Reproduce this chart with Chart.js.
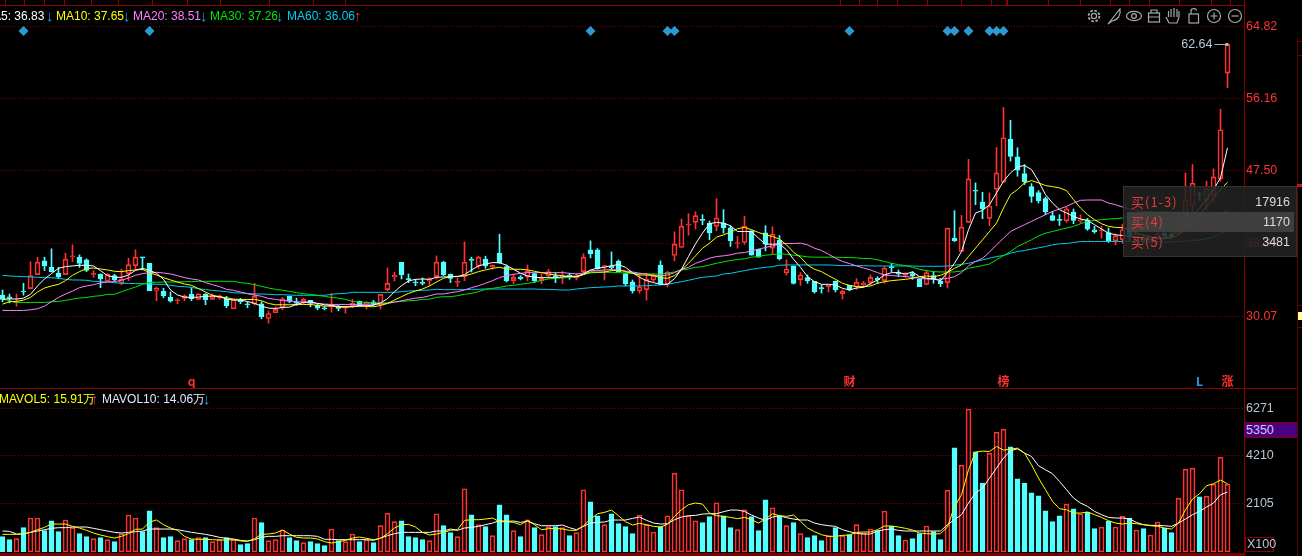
<!DOCTYPE html>
<html><head><meta charset="utf-8">
<script src="https://cdn.jsdelivr.net/npm/chart.js@4"></script>
<style>
html,body{margin:0;padding:0;background:#000;width:1302px;height:556px;overflow:hidden}
#root{position:relative;width:1302px;height:556px;background:#000;overflow:hidden;font:12px "Liberation Sans",Arial,sans-serif}
canvas{position:absolute;left:0}
.ln{position:absolute;background:#8b0000}
.t{position:absolute;white-space:nowrap;line-height:14px}
.ar{font-size:15px;font-weight:bold}
#panel{position:absolute;left:1123px;top:186px;width:174px;height:71px;background:rgba(34,34,34,.87);border:1px solid #333;box-sizing:border-box}
#rowHi{position:absolute;left:3px;top:25px;width:167px;height:20px;background:rgba(70,70,70,.8)}
.pL{position:absolute;left:7px;color:#e23a3a;font:13px "Noto Sans CJK SC","Liberation Sans",sans-serif;line-height:20px;letter-spacing:1px;white-space:nowrap}
.pR{position:absolute;right:6px;color:#dcdcdc;font:12.5px "Liberation Sans",Arial,sans-serif;line-height:20px}
</style></head><body>
<div id="root">
<canvas id="priceChart" style="top:0" width="1302" height="388"></canvas>
<canvas id="volChart" style="top:389px" width="1302" height="164"></canvas>
</div>
<script>
const open=[32.62,32.42,31.70,33.11,33.39,35.07,36.72,35.99,35.27,35.07,
37.20,37.16,36.84,35.11,35.15,34.31,34.95,34.07,35.19,36.15,
37.16,36.43,33.19,33.07,32.34,31.94,32.22,32.70,32.10,32.70,
32.10,32.30,32.14,30.98,32.02,31.54,31.58,31.58,29.82,30.50,
31.14,32.50,31.74,31.82,31.98,31.38,31.06,31.22,31.26,31.06,
31.26,31.86,31.50,31.82,31.50,33.27,34.79,36.55,34.55,34.19,
34.11,34.31,34.83,36.55,35.11,34.15,34.87,36.92,36.11,36.92,
36.03,37.64,36.03,34.35,34.79,34.83,35.19,34.35,34.91,34.91,
34.79,35.03,34.71,35.43,38.04,38.04,36.03,36.11,36.68,35.19,
34.19,33.11,33.27,34.43,36.23,33.95,37.36,38.32,41.00,41.33,
41.65,41.25,40.85,41.25,40.69,38.80,38.92,40.32,38.12,40.08,
38.24,39.20,35.27,36.11,34.47,34.71,34.27,33.51,33.63,34.27,
32.78,33.79,33.59,33.83,34.11,34.63,34.35,36.03,35.31,34.99,
35.19,34.51,33.91,34.95,34.31,34.11,39.44,37.84,41.33,45.18,
43.77,41.81,45.30,46.14,51.27,49.19,47.18,45.62,44.90,44.17,
42.13,41.65,41.53,42.57,41.49,41.65,40.45,40.32,40.12,39.12,
39.24,40.24,39.44,39.56,38.84,39.48,40.04,39.92,40.04,41.33,
43.37,44.74,43.97,44.57,46.54,59.21];
const close=[32.10,32.22,31.82,32.99,34.95,36.55,36.11,35.39,34.79,36.92,
37.28,36.40,35.59,35.19,34.55,35.11,34.43,34.55,36.27,37.16,
37.08,33.15,33.43,32.55,31.90,32.02,32.54,32.18,32.78,32.06,
32.50,32.54,31.34,32.06,31.82,31.46,32.46,30.02,30.42,30.90,
32.18,31.86,31.66,32.10,31.62,31.06,30.98,31.38,31.02,31.14,
31.62,31.34,31.74,31.50,32.70,34.03,34.99,35.03,34.47,34.07,
34.03,34.51,36.55,35.03,34.63,34.23,36.55,36.76,37.16,36.11,
36.19,36.43,34.31,34.75,34.55,35.47,34.35,34.67,35.43,34.83,
34.91,34.83,34.83,37.16,37.56,35.79,36.11,35.87,35.43,33.95,
33.11,33.59,34.51,34.91,33.95,35.35,38.72,40.89,41.08,42.13,
41.57,40.08,41.85,40.69,39.12,38.88,40.89,37.40,37.16,38.72,
39.92,36.96,35.75,34.03,35.03,34.31,32.99,33.35,33.79,33.23,
33.11,33.23,34.15,34.07,34.75,34.43,35.83,35.91,35.15,35.15,
34.91,33.63,35.31,34.55,33.99,40.65,39.12,40.77,46.54,45.06,
42.97,43.29,47.26,51.47,49.23,47.58,46.18,44.45,43.93,42.57,
41.57,41.57,42.93,41.57,41.65,40.53,40.20,40.41,39.04,39.72,
40.45,39.64,40.04,39.16,39.44,39.96,39.64,39.56,41.25,43.97,
46.02,44.62,45.34,46.78,52.43,62.64];
const high=[33.23,32.74,32.74,34.03,36.60,37.16,37.16,38.16,35.95,37.64,
38.64,37.44,36.96,35.55,35.15,35.19,35.11,35.71,37.04,38.04,
37.16,36.43,33.59,33.43,32.99,32.18,32.66,33.51,32.78,32.82,
32.78,32.66,32.46,32.06,32.22,31.82,34.03,31.82,30.70,31.22,
32.34,32.50,32.26,32.22,31.98,31.54,31.26,32.82,31.38,31.30,
32.10,31.90,31.86,31.98,32.70,35.87,35.35,36.55,35.15,34.51,
34.67,34.71,37.32,36.68,35.15,34.63,39.00,37.16,37.28,37.28,
36.23,39.92,36.23,35.11,34.95,36.23,35.23,35.15,35.71,35.31,
35.47,35.23,35.23,37.56,39.12,38.20,36.19,37.80,36.84,35.27,
34.43,35.19,35.23,35.23,36.72,35.47,40.20,41.73,42.37,42.61,
42.25,41.49,44.17,42.85,40.89,39.64,42.05,40.32,38.12,40.93,
40.81,39.76,36.84,36.11,35.31,35.03,34.27,33.83,33.79,34.31,
33.23,33.79,34.59,34.27,35.03,34.83,36.03,36.43,35.63,35.31,
35.43,34.63,35.63,35.43,34.63,40.65,42.73,42.17,48.87,46.06,
44.94,44.86,50.31,55.08,53.56,50.27,48.26,45.98,45.14,44.37,
42.65,42.25,43.17,42.93,42.25,41.81,40.85,40.85,40.65,39.96,
41.13,40.53,40.45,39.84,39.64,40.24,40.24,40.12,41.45,47.26,
48.26,44.94,46.26,47.74,54.88,62.64];
const low=[31.82,31.70,31.30,32.62,33.39,35.07,35.55,35.39,34.59,35.07,
36.64,35.95,35.43,34.75,33.51,34.27,34.31,33.87,34.35,35.71,
35.63,33.15,31.94,32.30,31.78,31.58,31.94,31.94,32.10,31.46,
32.10,32.10,31.10,30.98,31.58,31.10,31.42,29.78,29.26,30.50,
30.86,31.70,31.38,31.54,31.22,30.86,30.86,30.58,30.74,30.46,
31.10,31.30,30.94,31.34,30.94,33.11,34.31,34.55,34.11,33.75,
33.83,33.79,34.55,34.95,34.11,33.63,34.35,35.39,35.83,35.83,
35.71,36.43,34.19,33.99,34.43,34.35,34.11,33.99,34.67,34.11,
33.99,34.51,34.43,35.23,37.08,35.71,34.43,35.63,35.39,33.71,
32.86,32.86,32.02,34.19,33.87,33.59,36.72,38.32,39.80,40.53,
41.05,39.24,40.33,40.04,38.44,38.24,38.68,37.40,37.16,37.92,
37.56,36.84,35.03,33.95,33.79,34.03,32.86,32.86,32.99,32.99,
32.14,33.15,33.31,33.55,33.83,34.03,34.03,35.43,34.83,34.75,
34.51,33.63,33.83,34.03,33.63,33.47,39.04,37.84,41.33,43.45,
41.77,40.93,43.33,46.14,48.67,46.86,45.86,43.73,43.65,42.25,
41.53,40.97,41.33,41.17,41.25,40.37,40.04,39.44,38.92,38.64,
38.84,39.16,39.04,38.84,38.64,39.24,39.44,39.40,39.84,41.25,
42.45,43.97,42.85,43.65,46.26,57.45];
const ma5=[32.10,32.18,32.14,32.26,32.71,33.71,34.55,35.19,35.83,36.03,
36.11,36.19,36.19,36.11,35.55,34.95,34.75,34.75,35.03,35.59,
35.83,35.59,35.23,34.51,33.23,32.63,32.38,32.34,32.38,32.47,
32.51,32.43,32.14,32.02,32.02,31.86,31.62,31.30,31.06,31.02,
31.14,31.18,31.50,31.74,31.82,31.62,31.46,31.38,31.26,31.22,
31.26,31.34,31.34,31.42,31.70,32.18,33.03,33.75,34.31,34.51,
34.55,34.51,34.75,34.79,34.83,34.83,35.07,35.63,36.11,36.35,
36.51,36.51,36.19,35.71,35.23,34.91,34.75,34.71,34.71,34.71,
34.79,34.87,34.87,35.15,35.63,35.83,35.95,36.15,36.27,35.95,
35.31,34.75,34.35,34.11,33.91,33.91,34.59,35.71,37.24,38.76,
40.04,41.17,41.33,41.25,40.93,40.24,40.24,40.24,39.44,38.72,
38.72,38.76,38.04,36.92,35.95,34.83,34.23,33.91,33.91,33.83,
33.43,33.23,33.47,33.55,33.99,34.43,35.03,35.31,35.31,35.15,
35.39,34.83,34.63,34.55,34.35,35.31,36.43,37.84,40.45,42.45,
42.77,43.45,44.86,46.26,47.26,47.98,48.14,47.66,46.26,44.66,
43.65,42.85,42.45,42.05,41.73,41.57,41.05,40.53,40.04,39.84,
39.76,39.64,39.56,39.40,39.24,39.44,39.44,39.72,40.45,41.25,
42.05,43.05,44.05,45.26,46.66,50.27];
const ma10=[31.54,31.82,31.86,32.02,32.34,32.99,33.47,33.71,33.91,34.35,
34.99,35.43,35.79,35.87,35.75,35.63,35.47,35.43,35.55,35.63,
35.71,35.31,35.03,34.71,34.43,34.19,33.95,33.79,33.39,32.99,
32.59,32.43,32.30,32.14,32.10,32.10,32.10,31.94,31.62,31.46,
31.46,31.46,31.50,31.50,31.50,31.38,31.30,31.30,31.18,31.18,
31.22,31.30,31.26,31.22,31.38,31.62,32.02,32.43,32.82,33.11,
33.35,33.71,34.19,34.63,34.83,34.87,34.91,35.15,35.43,35.63,
35.83,35.95,35.75,35.71,35.71,35.63,35.47,35.31,35.15,35.03,
34.95,34.83,34.79,35.07,35.39,35.35,35.39,35.55,35.63,35.43,
35.23,35.03,35.03,34.95,34.71,34.63,34.95,35.63,36.43,37.32,
38.24,38.84,39.56,39.84,40.16,40.57,40.73,40.45,40.12,39.84,
39.64,39.32,38.64,37.76,37.16,36.23,35.71,35.43,34.95,34.51,
34.03,33.79,33.63,33.63,33.71,34.03,34.23,34.35,34.43,34.51,
34.63,34.83,34.91,34.83,34.99,35.35,35.83,36.23,37.24,38.24,
39.24,40.24,41.25,43.05,44.66,45.26,46.06,46.34,46.06,45.74,
45.62,45.46,45.14,44.05,43.05,42.25,41.65,41.17,40.85,40.73,
40.69,40.45,40.04,39.80,39.64,39.36,39.36,39.44,39.84,40.45,
41.25,42.25,43.25,44.25,45.26,46.14];
const ma20=[30.78,30.78,30.78,30.78,30.86,30.98,31.30,31.82,32.34,32.75,
33.11,33.51,33.71,33.87,34.07,34.19,34.23,34.39,34.67,34.99,
35.19,35.31,35.35,35.27,35.15,34.95,34.71,34.55,34.43,34.11,
33.87,33.63,33.31,33.19,32.99,32.78,32.63,32.47,32.22,32.10,
31.98,31.94,31.82,31.78,31.70,31.62,31.54,31.50,31.50,31.50,
31.50,31.50,31.54,31.54,31.54,31.62,31.78,31.94,32.10,32.26,
32.34,32.54,32.75,32.75,32.91,33.03,33.23,33.51,33.75,34.03,
34.35,34.71,34.95,35.11,35.23,35.31,35.31,35.31,35.31,35.31,
35.31,35.23,35.15,35.27,35.55,35.55,35.63,35.67,35.63,35.51,
35.39,35.23,35.15,34.99,34.91,35.03,35.31,35.71,35.95,36.43,
36.72,37.04,37.24,37.32,37.44,37.64,37.72,37.92,38.12,38.32,
38.52,38.72,38.80,38.80,38.84,38.64,38.24,37.96,37.52,37.04,
36.64,36.40,36.11,35.87,35.63,35.31,35.03,34.95,34.91,34.83,
34.75,34.63,34.55,34.51,34.51,34.63,34.83,35.31,36.11,36.64,
37.04,37.76,38.64,39.44,40.24,40.65,41.05,41.45,41.85,42.25,
42.65,42.93,43.25,43.65,43.97,44.01,44.01,44.01,43.65,43.45,
43.17,42.93,42.77,42.65,42.53,42.13,41.85,41.41,41.25,41.05,
40.93,40.93,41.05,41.45,41.85,42.77];
const ma30=[32.14,31.94,31.74,31.74,31.74,31.74,31.74,31.82,31.86,31.98,
32.14,32.26,32.34,32.47,32.55,32.71,32.71,33.03,33.31,33.59,
33.91,34.15,34.15,34.19,34.19,34.19,34.23,34.23,34.27,34.27,
34.27,34.27,34.27,34.27,34.11,34.03,33.87,33.67,33.47,33.31,
33.19,33.07,32.91,32.79,32.71,32.59,32.47,32.34,32.26,32.10,
31.86,31.78,31.74,31.70,31.66,31.70,31.78,31.86,31.94,31.98,
32.10,32.14,32.34,32.43,32.43,32.55,32.71,32.82,33.03,33.31,
33.43,33.55,33.71,33.79,33.91,34.03,34.15,34.39,34.55,34.63,
34.67,34.75,34.87,35.11,35.27,35.35,35.35,35.35,35.31,35.27,
35.23,35.23,35.15,35.15,35.11,35.23,35.39,35.63,35.75,35.95,
36.03,36.23,36.43,36.60,36.76,36.88,36.96,37.16,37.24,37.40,
37.48,37.56,37.52,37.40,37.32,37.20,37.16,37.16,37.16,37.16,
37.12,37.12,37.08,37.00,37.00,36.84,36.64,36.43,36.27,36.15,
35.95,35.71,35.55,35.43,35.39,35.39,35.39,35.51,35.83,35.99,
36.15,36.35,36.84,37.36,37.84,38.44,38.84,39.24,39.72,40.04,
40.24,40.45,40.65,40.85,41.17,41.45,41.57,41.65,41.73,41.77,
41.85,42.05,42.37,42.53,42.61,42.61,42.61,42.57,42.57,42.53,
42.45,42.33,42.25,42.21,42.33,42.65];
const ma60=[34.99,34.91,34.87,34.83,34.79,34.75,34.71,34.71,34.63,34.51,
34.43,34.43,34.39,34.27,34.23,34.19,34.11,34.03,34.03,33.99,
33.99,33.95,33.91,33.91,33.79,33.67,33.63,33.55,33.39,33.27,
33.19,33.11,33.03,32.91,32.87,32.82,32.75,32.75,32.71,32.67,
32.67,32.63,32.59,32.59,32.59,32.59,32.59,32.71,32.79,32.82,
32.95,32.95,32.95,32.95,32.95,32.95,32.95,33.03,33.11,33.15,
33.19,33.23,33.31,33.27,33.27,33.27,33.27,33.31,33.31,33.35,
33.35,33.35,33.35,33.35,33.35,33.35,33.35,33.31,33.31,33.27,
33.23,33.23,33.35,33.43,33.51,33.55,33.59,33.63,33.71,33.71,
33.71,33.71,33.75,33.79,33.83,33.91,34.07,34.23,34.39,34.59,
34.75,34.83,34.91,35.15,35.23,35.39,35.55,35.71,35.83,35.95,
36.03,36.19,36.23,36.23,36.23,36.23,36.23,36.23,36.23,36.19,
36.15,36.15,36.15,36.15,36.11,36.11,36.11,36.11,36.11,36.11,
36.11,36.07,36.07,36.07,36.07,36.11,36.19,36.31,36.43,36.64,
36.84,37.04,37.24,37.36,37.64,37.84,37.96,38.12,38.28,38.44,
38.64,38.76,38.80,38.92,39.04,39.04,39.04,39.04,39.04,39.04,
39.04,39.04,39.04,39.04,39.00,39.00,39.00,39.00,39.04,39.08,
39.16,39.24,39.36,39.56,39.96,40.45];
const volume=[672,540,584,1066,1489,1489,934,1372,891,1402,
1066,803,672,584,628,540,453,803,1621,1489,
891,1810,1066,628,672,496,584,540,628,628,
453,540,628,540,321,365,1489,1285,496,540,
964,628,496,409,453,365,277,1007,496,453,
788,453,540,409,1153,1708,1329,1372,672,628,
540,496,1679,1153,847,672,2774,1635,1197,1110,
715,2073,1635,934,672,1416,1066,759,1110,1110,
1066,715,847,2730,2205,1591,1197,1679,1241,1110,
803,1621,1197,876,1110,1591,3460,2730,1591,1372,
1285,1548,2161,1591,1066,978,1854,1548,934,2292,
1942,1591,1153,1285,803,628,715,496,715,1066,
715,759,1197,832,1007,934,1796,1124,715,526,
584,803,1139,891,540,2716,4570,3811,6271,4395,
3022,4336,5256,5387,4614,3212,3022,2599,2467,1810,
1329,1591,2102,1898,1679,1752,1022,1095,1358,1095,
1577,1489,964,1022,745,1314,1051,847,2365,3635,
3679,2424,2453,2978,4161,2978];
const mavol5=[774,774,774,803,861,978,1080,1226,1226,1226,
1124,1051,949,832,745,672,613,686,803,993,
1007,1314,1402,1197,1051,949,686,569,555,555,
540,526,526,540,482,467,584,774,788,832,
964,788,642,613,613,569,453,394,453,511,
613,657,599,540,599,803,1051,1197,1212,1095,
861,745,788,861,949,978,1387,1416,1416,1445,
1489,1329,1329,1299,1197,1387,1197,978,1022,1037,
1007,949,949,1153,1445,1679,1737,1840,1591,1329,
1183,1256,1197,1124,1095,1212,1562,1854,2073,2146,
2102,1708,1591,1562,1518,1460,1518,1416,1270,1445,
1679,1591,1562,1621,1343,1051,891,759,686,686,
730,745,861,876,876,978,1139,1139,1095,1037,
964,832,803,788,803,1095,2000,2511,3606,4380,
4424,4409,4628,4468,4511,4555,4336,3825,3241,2730,
2219,1898,1854,1708,1708,1752,1635,1518,1372,1270,
1226,1270,1241,1197,1153,1124,1051,1007,1270,1854,
2321,2555,2905,2993,3154,2993];
const mavol10=[920,905,788,788,861,920,978,1037,1066,1066,
1095,1095,1095,1037,978,920,861,832,861,891,
920,1007,1007,1007,1007,978,920,861,818,774,
715,642,599,569,511,482,540,642,686,686,
715,715,715,715,715,686,555,555,540,540,
540,540,540,511,613,715,803,861,861,861,
861,861,920,920,1007,949,1051,1080,1124,1197,
1270,1372,1343,1358,1299,1343,1241,1153,1153,1153,
1183,1066,978,1124,1270,1299,1314,1402,1402,1402,
1475,1533,1387,1270,1226,1241,1416,1533,1591,1606,
1664,1679,1679,1767,1840,1840,1781,1621,1489,1387,
1533,1591,1504,1445,1402,1402,1270,1197,1153,1124,
978,891,818,788,788,920,978,1007,949,920,
920,920,920,920,920,1197,1416,1635,2146,2584,
2803,3241,3679,4117,4438,4526,4336,4190,3781,3606,
3431,3095,2730,2365,2146,2000,1781,1635,1518,1489,
1489,1445,1299,1197,1168,1168,1153,1124,1270,1445,
1635,1781,1971,2146,2511,2628];
const priceTicks=[64.82,56.16,47.50,38.84,30.07];
const volTicks=[6271,4210,2105];
const signalIndex=[3,21,84,95,96,121,135,136,138,141,142,143];
const signalLevel=64.25;
const flagIndex=[27,121,143,171,175];
const flagText=['q','财','榜','L','涨'];
const flagColor=['#ff3232','#ff3232','#ff3232','#2f9be8','#ff3232'];
const flagLevel=22.33;
const RED='#ff3232',CYAN='#54ffff',GRID='#800000';
const idx=open.map((_,i)=>i);
const xMin=-2.5/7,xMax=(1244-2.5)/7;
const up=idx.map(i=>close[i]>=open[i]);
const xScale={type:'linear',display:false,min:xMin,max:xMax,offset:false,grid:{display:false}};
function yScale(min,max,ticks,color,fmt){return{
 position:'right',min,max,
 afterBuildTicks:s=>{s.ticks=ticks.map(v=>({value:v}))},
 afterFit:s=>{s.width=58;s.paddingTop=0;s.paddingBottom=0},
 border:{display:false,dash:[1,2]},
 grid:{color:GRID,lineWidth:1,drawTicks:false,tickLength:0},
 ticks:{color,padding:2,crossAlign:'near',font:{family:'"Liberation Sans",Arial',size:12.5},callback:fmt,autoSkip:false}
}}
const lineDs=(label,arr,color,order)=>({type:'line',label,data:idx.map(i=>({x:i,y:arr[i]})),borderColor:color,borderWidth:1,pointRadius:0,tension:0,order,parsing:false});
const priceData=[
 lineDs('MA5',ma5,'#ffffff',1),lineDs('MA10',ma10,'#ffff00',2),lineDs('MA20',ma20,'#ff80ff',3),
 lineDs('MA30',ma30,'#00e600',4),lineDs('MA60',ma60,'#00ccee',5),
 {type:'scatter',label:'signal',data:signalIndex.map(i=>({x:i,y:signalLevel})),pointStyle:'rectRot',pointRadius:5,backgroundColor:'#2b9ad0',borderWidth:0,order:0},
 {type:'bar',label:'wickUpper',grouped:false,barThickness:1,data:idx.map(i=>({x:i,y:[Math.max(open[i],close[i]),high[i]]})),backgroundColor:idx.map(i=>up[i]?RED:CYAN),borderWidth:0,order:7},
 {type:'bar',label:'wickLower',grouped:false,barThickness:1,data:idx.map(i=>({x:i,y:[low[i],Math.min(open[i],close[i])]})),backgroundColor:idx.map(i=>up[i]?RED:CYAN),borderWidth:0,order:7},
 {type:'bar',label:'body',grouped:false,barThickness:5,minBarLength:1,data:idx.map(i=>({x:i,y:[open[i],close[i]]})),backgroundColor:idx.map(i=>up[i]?'rgba(0,0,0,0)':CYAN),borderColor:idx.map(i=>up[i]?RED:CYAN),borderWidth:1,borderSkipped:false,order:6}
];
const flagsPlugin={id:'flags',afterDatasetsDraw(c){
 const ctx=c.ctx,x=c.scales.x,y=c.scales.y;ctx.save();ctx.textBaseline='middle';ctx.textAlign='center';
 flagText.forEach((t,k)=>{ctx.fillStyle=flagColor[k];ctx.font='bold 12px "Noto Sans CJK SC","Liberation Sans",sans-serif';
  ctx.fillText(t,x.getPixelForValue(flagIndex[k]),y.getPixelForValue(flagLevel))});
 const last=idx.length-1,px=x.getPixelForValue(last),py=Math.round(y.getPixelForValue(high[last]))+.5;
 ctx.strokeStyle='#b0b0b0';ctx.lineWidth=1;ctx.beginPath();ctx.moveTo(px-13,py);ctx.lineTo(px-1,py);ctx.stroke();
 ctx.fillStyle='#b8b8b8';ctx.fillRect(px-2,py-1.5,3,3);
 ctx.font='12.5px "Liberation Sans",Arial';ctx.fillStyle='#b8c8dc';ctx.textAlign='right';ctx.fillText(high[last].toFixed(2),px-15,py);
 ctx.restore();
}};
new Chart(document.getElementById('priceChart'),{type:'bar',data:{datasets:priceData},plugins:[flagsPlugin],options:{
 responsive:false,animation:false,events:[],devicePixelRatio:1,layout:{padding:0,autoPadding:false},
 plugins:{legend:{display:false},tooltip:{enabled:false}},
 scales:{x:xScale,y:yScale(21.49,67.97,priceTicks,RED,v=>Number(v).toFixed(2))}
}});
const volData=[
 lineDs('MAVOL5',mavol5,'#ffff00',1),lineDs('MAVOL10',mavol10,'#ffffff',2),
 {type:'bar',label:'volume',grouped:false,barThickness:5,data:idx.map(i=>({x:i,y:volume[i]})),backgroundColor:idx.map(i=>up[i]?'rgba(0,0,0,0)':CYAN),borderColor:idx.map(i=>up[i]?RED:CYAN),borderWidth:1,borderSkipped:false,order:3}
];
new Chart(document.getElementById('volChart'),{type:'bar',data:{datasets:volData},options:{
 responsive:false,animation:false,events:[],devicePixelRatio:1,layout:{padding:0,autoPadding:false},
 plugins:{legend:{display:false},tooltip:{enabled:false}},
 scales:{x:xScale,y:yScale(-44,7148,volTicks,'#b8c4d0',v=>String(v))}
}});

/* page furniture: rules, legends, read-out panel */
const root=document.getElementById('root');
const line=(l,t,w,h,c)=>{const d=document.createElement('div');d.className='ln';d.style.cssText=`left:${l}px;top:${t}px;width:${w}px;height:${h}px`+(c?`;background:${c}`:'');root.appendChild(d)};
const text=(s,l,t,c,extra,cls)=>{const d=document.createElement('div');d.className='t'+(cls?' '+cls:'');d.textContent=s;d.style.cssText=`left:${l}px;top:${t}px;color:${c};`+(extra||'');root.appendChild(d);return d};
line(0,5,1244,1);
[5,24,44,64,91,118,152,187,220,269,313,345,840,859,877,897,927,961,991,1006,1048,1080,1110,1129,1149,1179,1211,1230].forEach(x=>line(x,0,1,5));
line(1006,0,2,5);
line(1244,0,1,556);
line(0,388,1297,1);
line(0,553,1244,3,'#7a0000');
line(1297,38,1,518,'#5a0000');
line(1297,184,5,3,'#c01818');
line(1298,312,4,8,'#ffff99');
[41,55,305,327].forEach(y=>line(1297,y,5,1,'#700000'));
const DOWN='#2a9fe0',UPC='#e03030';
text('MA5: 36.83',-17,9,'#ffffff');text('↓',46,9,DOWN,'','ar');
text('MA10: 37.65',56,9,'#ffff00');text('↓',123,9,DOWN,'','ar');
text('MA20: 38.51',133,9,'#ff80ff');text('↓',200,9,DOWN,'','ar');
text('MA30: 37.26',210,9,'#00e600');text('↓',276,9,DOWN,'','ar');
text('MA60: 36.06',287,9,'#00ccee');text('↑',354,9,UPC,'','ar');
text('MAVOL5: 15.91万',-1,392,'#ffff00');text('↑',91,392,UPC,'','ar');
text('MAVOL10: 14.06万',102,392,'#dfe8ff');text('↓',203,392,DOWN,'','ar');
/* crosshair value box and unit box on the volume axis */
text('5350',1245,422,'#c8c8ff','width:52px;height:16px;background:#4b0082;box-sizing:border-box;border-top:1px solid #8b0000;border-bottom:1px solid #8b0000;padding-left:1px;line-height:14px;font-size:12.5px');
text('X100',1245,537,'#b8c4d0','width:29px;height:15px;box-sizing:border-box;border:1px solid #8b0000;padding-left:1px;line-height:13px;font-size:12.5px');
/* read-out panel */
const panelLabels=['买(1-3)','买(4)','买(5)'];
const panelValues=['17916','1170','3481'];
const p=document.createElement('div');p.id='panel';p.innerHTML='<div id="rowHi"></div>';
panelLabels.forEach((s,k)=>{const a=document.createElement('div');a.className='pL';a.style.top=(5+20*k)+'px';a.textContent=s;p.appendChild(a);
 const v=document.createElement('div');v.className='pR';v.style.top=(5+20*k)+'px';v.textContent=panelValues[k];p.appendChild(v)});
root.appendChild(p);
/* toolbar icons */
const icons=`<svg xmlns="http://www.w3.org/2000/svg" width="170" height="24" viewBox="0 0 170 24" style="position:absolute;left:1082px;top:4px" fill="none" stroke="#a8a8a8" stroke-width="1.2">
<circle cx="12" cy="12" r="2.6"/><circle cx="12" cy="12" r="5.4" stroke-dasharray="2.6 1.6" stroke-width="1.8"/>
<path d="M26 20 L38 5 C39 11 36 16 30 17 Z"/>
<ellipse cx="52" cy="12" rx="7.5" ry="4.6"/><circle cx="52" cy="12" r="2.4"/>
<rect x="66.5" y="9" width="11" height="9"/><path d="M69 9 V6 H75 V9 M66.5 13 H77.5"/>
<path d="M87 19 L84 13 M87 19 H95 L97 13 V7 M89 13 V5 M92 13 V4 M95 13 V5 M97 13 V7 M86.5 13 V7"/>
<rect x="107" y="10" width="9.5" height="9"/><path d="M109 10 V6.5 C109 4 114.5 4 114.5 6.5"/>
<circle cx="132" cy="12" r="6.5"/><path d="M128.5 12 H135.5 M132 8.5 V15.5"/>
<circle cx="153" cy="12" r="6.5"/><path d="M149.5 12 H156.5"/></svg>`;
root.insertAdjacentHTML('beforeend',icons);
</script>
</body></html>
